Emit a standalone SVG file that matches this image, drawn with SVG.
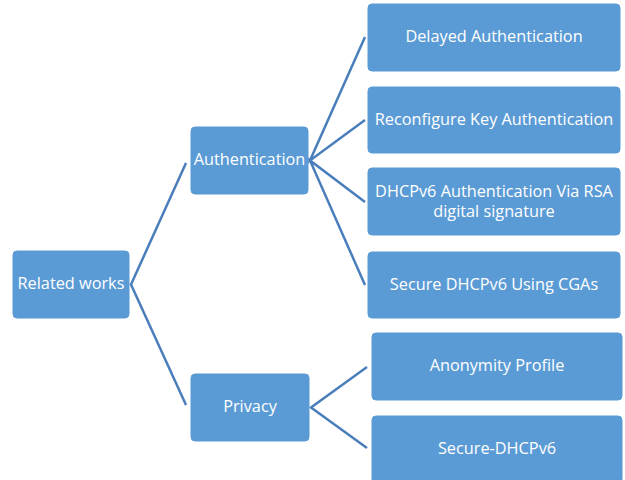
<svg xmlns="http://www.w3.org/2000/svg" width="625" height="480" viewBox="0 0 625 480">
  <style>
    .box { fill: #5B9BD5; stroke: #5B9BD5; stroke-width: 1; }
    .lbl { fill: #ffffff; font-family: "Open Sans", "Liberation Sans", sans-serif; font-size: 16.3px; text-anchor: middle; dominant-baseline: central; }
    .conn { fill: none; stroke: #4A7EBB; stroke-width: 2.5; stroke-linejoin: miter; }
  </style>
  <rect width="625" height="480" fill="#ffffff"/>

  <!-- connectors -->
  <g id="connectors" class="conn">
    <polyline points="186,163 131,284.5 186,405"/>
    <polyline points="365,37 310,160.5 365,120"/>
    <polyline points="365,202 310,160.5 365,285"/>
    <polyline points="367,367 311,407.5 367,448"/>
  </g>

  <g id="related-works">
    <rect class="box" x="13" y="251" width="116" height="67" rx="4"/>
    <text class="lbl" x="71" y="283">Related works</text>
  </g>

  <g id="authentication">
    <rect class="box" x="191" y="127" width="117" height="67" rx="4"/>
    <text class="lbl" x="249.5" y="159">Authentication</text>
  </g>

  <g id="privacy">
    <rect class="box" x="191" y="374" width="118" height="67" rx="4"/>
    <text class="lbl" x="250" y="406">Privacy</text>
  </g>

  <g id="delayed-authentication">
    <rect class="box" x="368" y="4" width="252" height="67" rx="4"/>
    <text class="lbl" x="494" y="36">Delayed Authentication</text>
  </g>

  <g id="reconfigure-key-authentication">
    <rect class="box" x="368" y="87" width="252" height="66" rx="4"/>
    <text class="lbl" x="494" y="118.5">Reconfigure Key Authentication</text>
  </g>

  <g id="dhcpv6-rsa">
    <rect class="box" x="368" y="168" width="252" height="67" rx="4"/>
    <text class="lbl" x="494" y="190.5">DHCPv6 Authentication Via RSA</text>
    <text class="lbl" x="494" y="210.5">digital signature</text>
  </g>

  <g id="secure-dhcpv6-cgas">
    <rect class="box" x="368" y="252" width="252" height="66" rx="4"/>
    <text class="lbl" x="494" y="283.5">Secure DHCPv6 Using CGAs</text>
  </g>

  <g id="anonymity-profile">
    <rect class="box" x="372" y="333" width="250" height="67" rx="4"/>
    <text class="lbl" x="497" y="365">Anonymity Profile</text>
  </g>

  <g id="secure-dhcpv6">
    <rect class="box" x="372" y="416" width="250" height="67" rx="4"/>
    <text class="lbl" x="497" y="447.5">Secure-DHCPv6</text>
  </g>
</svg>
